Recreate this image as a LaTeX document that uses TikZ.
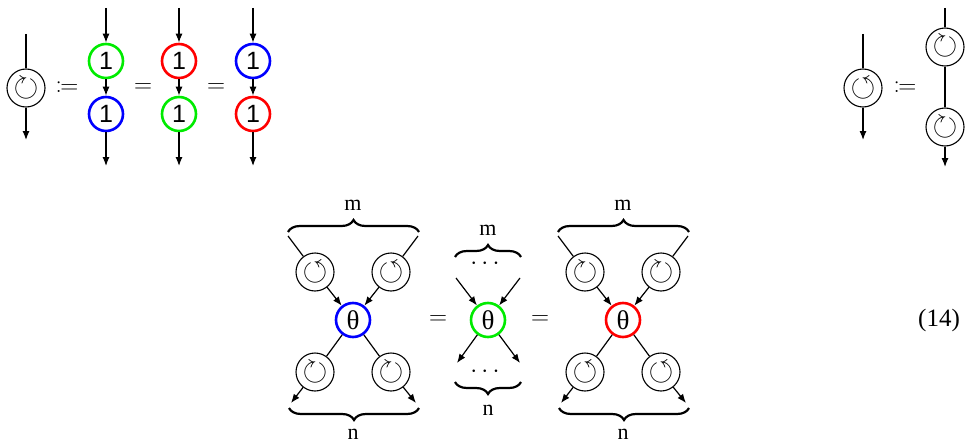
\RequirePackage{fix-cm}
\documentclass[tikz,border=0pt]{standalone}
\usepackage{amssymb}
\usepackage{mathtools}
\usepackage{fontspec}
\setmainfont{Liberation Serif}
\newfontfamily\onefont{Liberation Sans}
\usetikzlibrary{arrows.meta,decorations.pathreplacing}

\definecolor{gG}{RGB}{0,235,0}
\definecolor{gR}{RGB}{255,0,0}
\definecolor{gB}{RGB}{0,0,255}

\begin{document}
\begin{tikzpicture}[x=1pt,y=-1pt,
  wire/.style={line width=1.2pt},
  arr/.style={wire,-{Latex[length=9pt,width=7pt]}},
  gate/.style={circle,draw,line width=2.6pt,minimum size=34pt,inner sep=0pt},
  onegate/.style={gate,font=\onefont\fontsize{25}{25}\selectfont},
  thgate/.style={gate,font=\fontsize{27}{27}\selectfont},
  rotor/.style={circle,draw,line width=1.1pt,minimum size=38pt,inner sep=0pt,
    font=\fontsize{32}{32}\selectfont},
  rel/.style={font=\fontsize{25}{25}\selectfont},
  lbl/.style={font=\fontsize{22}{22}\selectfont},
  cbrace/.style={line width=2.2pt,decorate,decoration={brace,amplitude=12pt}},
]
\useasboundingbox (0,0) rectangle (966,444);

% ---- rotor defined as a product of three gates ----
\node[rotor] (ra) at (26,88) {$\circlearrowright$};
\coordinate (ra-in) at (26,34);
\coordinate (ra-out) at (26,140);
\draw[wire] (ra-in) -- (ra);
\draw[arr] (ra) -- (ra-out);
\node[rel] (defa) at (67,88) {$\coloneqq$};

\foreach \x/\ca/\cb/\n in {106/gG/gB/1,179/gR/gG/2,253/gB/gR/3}{
  \coordinate (c\n-in) at (\x,8);
  \coordinate (c\n-out) at (\x,166);
  \node[onegate,draw=\ca] (c\n-a) at (\x,61) {1};
  \node[onegate,draw=\cb] (c\n-b) at (\x,114) {1};
  \draw[arr] (c\n-in) -- (c\n-a);
  \draw[arr] (c\n-a) -- (c\n-b);
  \draw[arr] (c\n-b) -- (c\n-out);
}
\node[rel] (eqa) at (143,88) {$=$};
\node[rel] (eqb) at (216,88) {$=$};

% ---- inverse rotor ----
\node[rotor] (rb) at (863,88) {$\circlearrowleft$};
\coordinate (rb-in) at (863,34);
\coordinate (rb-out) at (863,140);
\draw[wire] (rb-in) -- (rb);
\draw[arr] (rb) -- (rb-out);
\node[rel] (defb) at (905,88) {$\coloneqq$};
\node[rotor] (rc) at (945,47) {$\circlearrowright$};
\node[rotor] (rd) at (945,127) {$\circlearrowright$};
\coordinate (rc-in) at (945,8);
\coordinate (rd-out) at (945,167);
\draw[wire] (rc-in) -- (rc);
\draw[wire] (rc) -- (rd);
\draw[arr] (rd) -- (rd-out);

% ---- left spider ----
\node[thgate,draw=gB] (tl) at (353,320) {θ};
\node[rotor] (tl1) at (315,272) {$\circlearrowleft$};
\node[rotor] (tl2) at (391,272) {$\circlearrowleft$};
\node[rotor] (tl3) at (315,372) {$\circlearrowright$};
\node[rotor] (tl4) at (391,372) {$\circlearrowright$};
\coordinate (tl-i1) at (288,236);
\coordinate (tl-i2) at (418,236);
\coordinate (tl-o1) at (291,403);
\coordinate (tl-o2) at (416,403);
\draw[wire] (tl-i1) -- (tl1);
\draw[wire] (tl-i2) -- (tl2);
\draw[arr] (tl1) -- (tl);
\draw[arr] (tl2) -- (tl);
\draw[wire] (tl) -- (tl3);
\draw[wire] (tl) -- (tl4);
\draw[arr] (tl3) -- (tl-o1);
\draw[arr] (tl4) -- (tl-o2);
\coordinate (tl-b1) at (288,232);
\coordinate (tl-b2) at (419,232);
\coordinate (tl-b3) at (289,408);
\coordinate (tl-b4) at (419,408);
\draw[cbrace] (tl-b1) -- (tl-b2);
\draw[cbrace] (tl-b4) -- (tl-b3);
\node[lbl] (tl-m) at (353,205) {m};
\node[lbl] (tl-n) at (353,434) {n};

\node[rel] (eqc) at (438,320) {$=$};

% ---- plain spider ----
\node[thgate,draw=gG] (tm) at (488,320) {θ};
\coordinate (tm-i1) at (456,278);
\coordinate (tm-i2) at (520,278);
\coordinate (tm-o1) at (457,363);
\coordinate (tm-o2) at (520,363);
\draw[arr] (tm-i1) -- (tm);
\draw[arr] (tm-i2) -- (tm);
\draw[arr] (tm) -- (tm-o1);
\draw[arr] (tm) -- (tm-o2);
\node[rel] (tm-dt) at (487,264) {$\cdots$};
\node[rel] (tm-db) at (487,372) {$\cdots$};
\coordinate (tm-b1) at (455,257);
\coordinate (tm-b2) at (521,257);
\coordinate (tm-b3) at (455,382);
\coordinate (tm-b4) at (521,382);
\draw[cbrace] (tm-b1) -- (tm-b2);
\draw[cbrace] (tm-b4) -- (tm-b3);
\node[lbl] (tm-m) at (488,230) {m};
\node[lbl] (tm-n) at (488,410) {n};

\node[rel] (eqd) at (540,320) {$=$};

% ---- right spider ----
\node[thgate,draw=gR] (tr) at (623,320) {θ};
\node[rotor] (tr1) at (585,272) {$\circlearrowright$};
\node[rotor] (tr2) at (661,272) {$\circlearrowright$};
\node[rotor] (tr3) at (585,372) {$\circlearrowleft$};
\node[rotor] (tr4) at (661,372) {$\circlearrowleft$};
\coordinate (tr-i1) at (558,236);
\coordinate (tr-i2) at (688,236);
\coordinate (tr-o1) at (561,403);
\coordinate (tr-o2) at (686,403);
\draw[wire] (tr-i1) -- (tr1);
\draw[wire] (tr-i2) -- (tr2);
\draw[arr] (tr1) -- (tr);
\draw[arr] (tr2) -- (tr);
\draw[wire] (tr) -- (tr3);
\draw[wire] (tr) -- (tr4);
\draw[arr] (tr3) -- (tr-o1);
\draw[arr] (tr4) -- (tr-o2);
\coordinate (tr-b1) at (558,232);
\coordinate (tr-b2) at (689,232);
\coordinate (tr-b3) at (559,408);
\coordinate (tr-b4) at (689,408);
\draw[cbrace] (tr-b1) -- (tr-b2);
\draw[cbrace] (tr-b4) -- (tr-b3);
\node[lbl] (tr-m) at (623,205) {m};
\node[lbl] (tr-n) at (623,434) {n};

\node[rel] (eqno) at (939,320) {(14)};
\end{tikzpicture}
\end{document}
